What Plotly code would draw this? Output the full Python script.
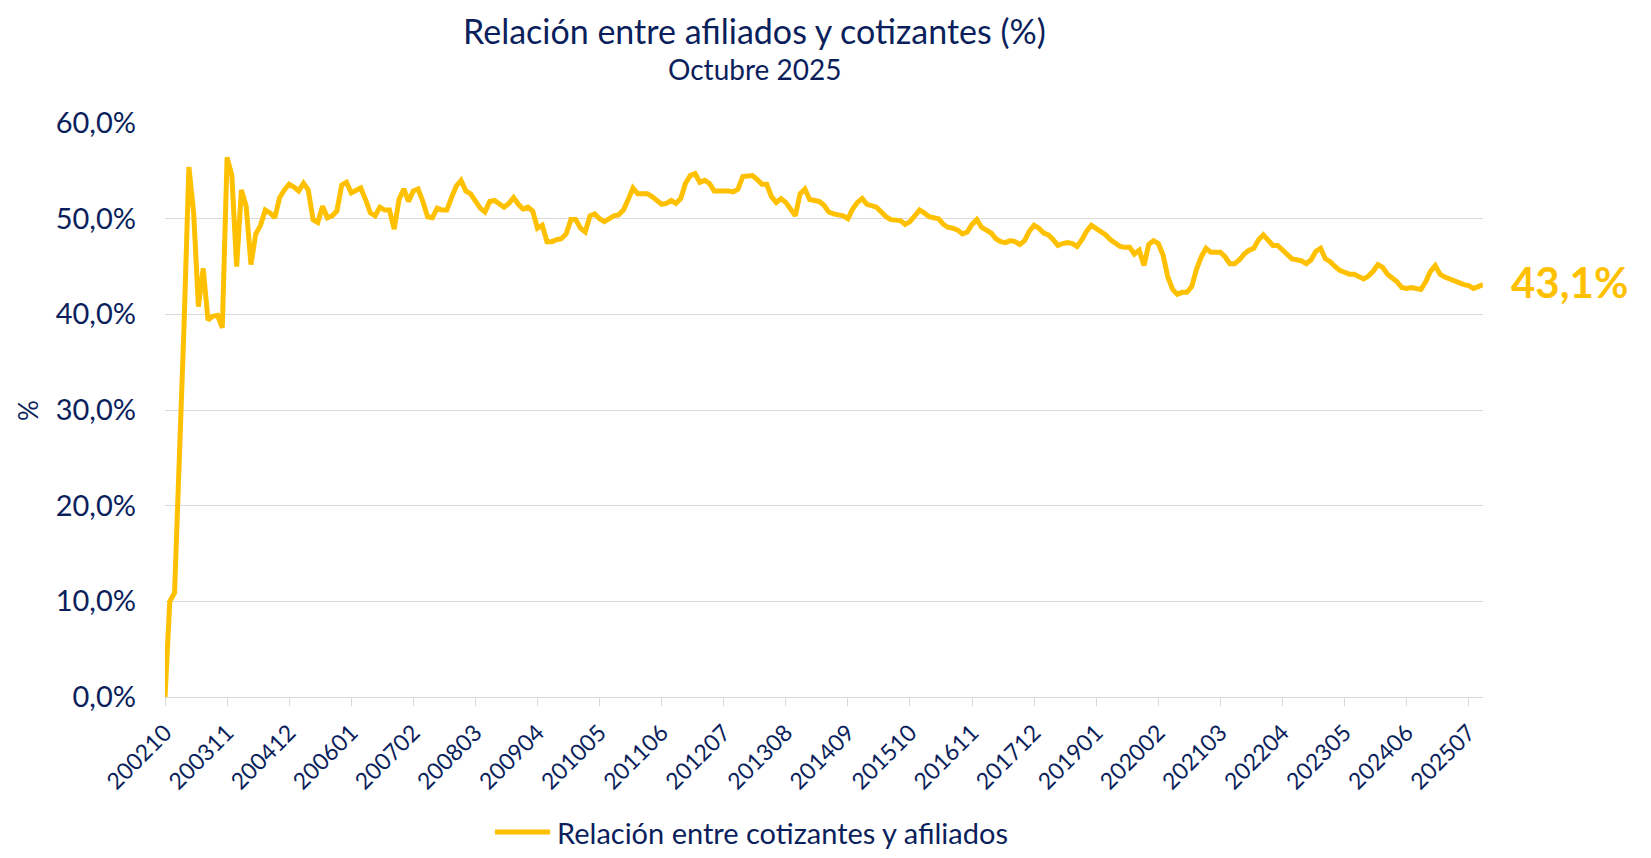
import plotly.graph_objects as go

# Monthly periods 200210 .. 202510
periods = []
y, m = 2002, 10
while (y, m) <= (2025, 10):
    periods.append(f"{y}{m:02d}")
    m += 1
    if m > 12:
        m = 1
        y += 1

# Relación entre cotizantes y afiliados (%)
ratio_2002_2005 = [0.0, 10.0, 10.9, 24.0, 39.0, 55.4, 50.6, 40.8, 44.8, 39.4,
                   39.8, 39.9, 38.6, 56.4, 54.5, 45.0, 53.0, 51.3, 45.2, 48.4,
                   49.3, 50.9, 50.6, 50.1, 52.2, 53.0, 53.6, 53.3, 52.9, 53.7,
                   53.0, 49.9, 49.6, 51.3, 50.1, 50.3, 50.8, 53.5, 53.8, 52.7]
ratio_2006_2009 = [52.9, 53.2, 52.0, 50.6, 50.3, 51.2, 50.9, 50.9, 48.9, 52.0,
                   53.1, 51.8, 52.9, 53.1, 51.8, 50.2, 50.1, 51.1, 50.9, 50.9,
                   52.2, 53.4, 54.0, 52.9, 52.6, 51.9, 51.1, 50.7, 51.8, 51.9,
                   51.6, 51.2, 51.6, 52.2, 51.5, 51.0, 51.2, 50.8, 49.0, 49.3]
ratio_2009_2012 = [47.6, 47.6, 47.8, 47.9, 48.4, 49.9, 49.9, 49.0, 48.6, 50.3,
                   50.5, 50.0, 49.7, 50.0, 50.3, 50.4, 50.9, 52.0, 53.2, 52.6,
                   52.6, 52.6, 52.3, 51.9, 51.5, 51.6, 51.9, 51.6, 52.1, 53.7,
                   54.5, 54.7, 53.8, 54.0, 53.7, 52.9, 52.9, 53.0, 52.9, 52.8]
ratio_2012_2016 = [53.1, 54.4, 54.4, 54.5, 54.1, 53.6, 53.6, 52.3, 51.7, 52.1,
                   51.7, 51.0, 50.3, 52.6, 53.1, 52.0, 51.9, 51.8, 51.4, 50.7,
                   50.5, 50.4, 50.3, 50.0, 51.0, 51.7, 52.1, 51.5, 51.3, 51.2,
                   50.7, 50.2, 49.9, 49.9, 49.8, 49.4, 49.7, 50.3, 50.9, 50.6]
ratio_2016_2019 = [50.2, 50.1, 50.0, 49.4, 49.1, 49.0, 48.8, 48.4, 48.6, 49.4,
                   49.9, 49.1, 48.8, 48.5, 47.9, 47.6, 47.5, 47.7, 47.6, 47.3,
                   47.7, 48.7, 49.3, 49.0, 48.5, 48.3, 47.8, 47.2, 47.4, 47.5,
                   47.4, 47.1, 47.8, 48.7, 49.3, 49.0, 48.6, 48.3, 47.8, 47.4]
ratio_2019_2022 = [47.1, 47.0, 47.0, 46.3, 46.7, 45.1, 47.3, 47.7, 47.4, 46.2,
                   43.9, 42.6, 42.1, 42.3, 42.3, 42.9, 44.7, 46.0, 46.9, 46.5,
                   46.5, 46.5, 46.0, 45.3, 45.3, 45.7, 46.3, 46.7, 46.9, 47.8,
                   48.3, 47.7, 47.2, 47.2, 46.7, 46.2, 45.8, 45.7, 45.6, 45.3]
ratio_2022_2025 = [45.7, 46.6, 46.9, 45.8, 45.5, 45.0, 44.6, 44.4, 44.2, 44.2,
                   44.0, 43.7, 44.0, 44.5, 45.2, 44.9, 44.2, 43.8, 43.4, 42.8,
                   42.7, 42.8, 42.7, 42.6, 43.4, 44.5, 45.1, 44.2, 43.9, 43.7,
                   43.4, 43.3, 43.1, 43.0, 42.7, 42.9, 43.1]

values = (ratio_2002_2005 + ratio_2006_2009 + ratio_2009_2012 + ratio_2012_2016
          + ratio_2016_2019 + ratio_2019_2022 + ratio_2022_2025)

tick_labels = periods[::13]

title_text = "Relación entre afiliados y cotizantes (%)"
subtitle_text = "Octubre 2025"
series_name = "Relación entre cotizantes y afiliados"

NAVY = "#0B1F5C"
GOLD = "#FFC000"
GRID = "#D9D9D9"
FONT = "Lato"

fig = go.Figure()
fig.add_trace(go.Scatter(
    x=periods, y=values, mode="lines", name=series_name,
    line=dict(color=GOLD, width=5), showlegend=False,
))

last_label = f"{values[-1]:.1f}".replace(".", ",") + "%"

# legend drawn in the bottom margin (sample line + label)
LEG_Y = (689 - 824) / 574
fig.add_shape(type="line", xref="paper", yref="paper",
              x0=0.2504, x1=0.2921, y0=LEG_Y, y1=LEG_Y,
              line=dict(color=GOLD, width=5))

fig.update_layout(
    width=1635, height=842,
    margin=dict(l=157, r=160, t=115, b=153, autoexpand=False),
    paper_bgcolor="white", plot_bgcolor="white",
    separators=",.",
    font=dict(family=FONT, color=NAVY),
    showlegend=False,
    xaxis=dict(
        type="category", range=[0, len(periods) - 1],
        showgrid=False, showline=True, linecolor=GRID, linewidth=1.3,
        ticks="outside", ticklen=8, tickcolor=GRID, tickwidth=1.3,
        tickmode="array", tickvals=tick_labels, ticktext=tick_labels,
        tickangle=-45, tickfont=dict(size=23, color=NAVY, family=FONT),
        ticklabelstandoff=4, zeroline=False, automargin=False,
    ),
    yaxis=dict(
        range=[0, 60], dtick=10, tickformat=".1f", ticksuffix="%",
        showgrid=True, gridcolor=GRID, gridwidth=1.3, zeroline=False,
        showline=False, ticks="", ticklabelstandoff=28, automargin=False,
        tickfont=dict(size=29, color=NAVY, family=FONT),
    ),
    annotations=[
        dict(text=title_text, x=0.447, y=(689 - 22) / 574, xref="paper", yref="paper",
             showarrow=False, xanchor="center", yanchor="middle",
             font=dict(size=34, color=NAVY, family=FONT)),
        dict(text=subtitle_text, x=0.447, y=(689 - 61) / 574, xref="paper", yref="paper",
             showarrow=False, xanchor="center", yanchor="middle",
             font=dict(size=28, color=NAVY, family=FONT)),
        dict(text="%", x=-0.104, y=0.5, xref="paper", yref="paper",
             showarrow=False, textangle=-90, xanchor="center", yanchor="middle",
             font=dict(size=26, color=NAVY, family=FONT)),
        dict(text=series_name, x=0.2959, y=LEG_Y, xref="paper", yref="paper",
             showarrow=False, xanchor="left", yanchor="middle",
             font=dict(size=29, color=NAVY, family=FONT)),
        dict(text=f"<b>{last_label}</b>", x=1.0, y=values[-1],
             xref="paper", yref="y", showarrow=False, xanchor="left",
             yanchor="middle", xshift=26, yshift=3,
             font=dict(size=42, color=GOLD, family=FONT)),
    ],
)

fig.write_html("out.html")
